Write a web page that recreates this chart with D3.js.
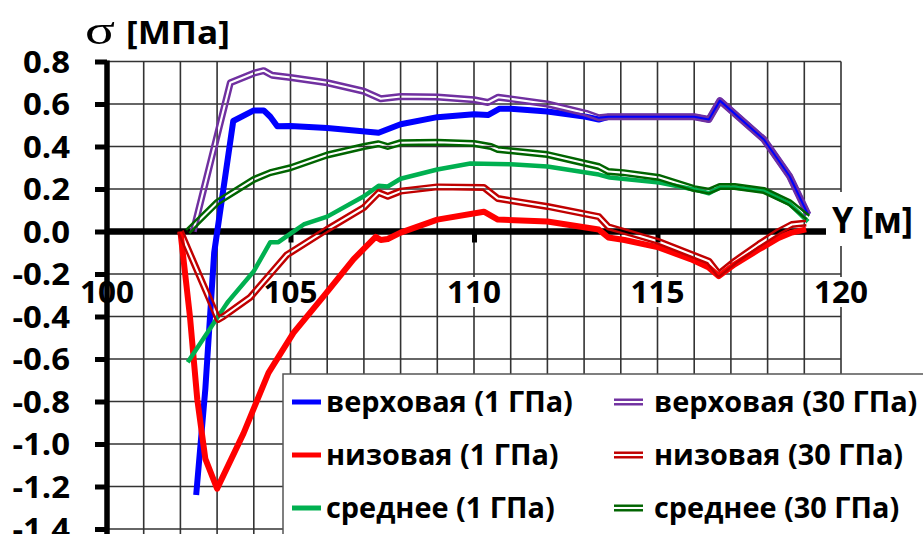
<!DOCTYPE html>
<html>
<head>
<meta charset="utf-8">
<script src="https://cdn.jsdelivr.net/npm/d3@7"></script>
<style>
  html, body { margin: 0; padding: 0; background: #fff; }
  svg { display: block; }
</style>
</head>
<body>
<svg id="chart" width="923" height="534"></svg>
<script>
// ---- data -------------------------------------------------------------
const xTickValues = [100, 105, 110, 115, 120];
const xTickLabels = ["100", "105", "110", "115", "120"];
const yTickValues = [0.8, 0.6, 0.4, 0.2, 0.0, -0.2, -0.4, -0.6, -0.8, -1.0, -1.2, -1.4];
const yTickLabels = ["0.8", "0.6", "0.4", "0.2", "0.0", "-0.2", "-0.4", "-0.6", "-0.8", "-1.0", "-1.2", "-1.4"];

const seriesLabels = [
  "верховая (1 ГПа)", "низовая (1 ГПа)", "среднее (1 ГПа)",
  "верховая (30 ГПа)", "низовая (30 ГПа)", "среднее (30 ГПа)"
];

// [Y, sigma] pairs
const upstream1 = [
  [102.43, -1.24], [102.68, -0.74], [102.92, -0.10], [103.44, 0.52], [104.0, 0.57],
  [104.27, 0.57], [104.45, 0.54], [104.64, 0.495], [105.0, 0.497], [106.0, 0.487],
  [107.4, 0.465], [108.0, 0.505], [109.0, 0.538], [110.0, 0.552], [110.38, 0.548],
  [110.7, 0.578], [111.0, 0.578], [112.0, 0.565], [113.05, 0.54], [113.4, 0.527],
  [113.66, 0.54], [114.07, 0.54], [116.0, 0.54], [116.4, 0.527], [116.7, 0.616],
  [117.9, 0.433], [118.6, 0.26], [119.1, 0.08]
];
const downstream1 = [
  [102.0, 0.0], [102.26, -0.40], [102.46, -0.79], [102.68, -1.07], [103.0, -1.21],
  [103.72, -0.95], [104.4, -0.665], [105.08, -0.477], [105.9, -0.305], [106.72, -0.13],
  [107.32, -0.025], [107.46, -0.04], [107.65, -0.035], [108.0, -0.005], [109.0, 0.056],
  [110.27, 0.093], [110.65, 0.056], [112.0, 0.047], [113.4, 0.009], [113.66, -0.028],
  [114.1, -0.04], [115.03, -0.075], [115.9, -0.13], [116.4, -0.17], [116.67, -0.21],
  [117.1, -0.155], [117.76, -0.085], [118.3, -0.03], [118.66, -0.005], [119.05, 0.01]
];
const mean1 = [
  [102.2, -0.615], [103.22, -0.35], [103.3, -0.33], [104.0, -0.187], [104.45, -0.05],
  [104.67, -0.05], [105.0, -0.01], [105.36, 0.033], [106.0, 0.07], [107.0, 0.166],
  [107.4, 0.215], [107.65, 0.212], [108.0, 0.248], [109.0, 0.292], [109.9, 0.32],
  [111.0, 0.316], [112.0, 0.306], [113.4, 0.268], [113.7, 0.254], [115.05, 0.23],
  [116.0, 0.198], [116.4, 0.18], [116.7, 0.207], [117.1, 0.207], [117.9, 0.19],
  [118.6, 0.13], [119.1, 0.047]
];
const upstream30 = [
  [102.35, 0.0], [103.36, 0.70], [104.0, 0.745], [104.27, 0.757], [104.5, 0.735],
  [105.0, 0.725], [106.0, 0.70], [107.0, 0.66], [107.46, 0.625], [108.0, 0.635],
  [109.0, 0.633], [110.0, 0.62], [110.38, 0.607], [110.66, 0.632], [111.0, 0.624],
  [112.0, 0.60], [113.06, 0.556], [113.4, 0.535], [113.66, 0.54], [114.07, 0.54],
  [116.0, 0.54], [116.4, 0.527], [116.7, 0.616], [117.9, 0.433], [118.6, 0.26],
  [119.1, 0.08]
];
const downstream30 = [
  [102.0, 0.0], [103.03, -0.414], [103.17, -0.40], [103.9, -0.31], [104.45, -0.20],
  [104.9, -0.11], [106.0, 0.01], [107.0, 0.113], [107.4, 0.183], [107.65, 0.166],
  [108.0, 0.19], [109.0, 0.21], [110.27, 0.207], [110.65, 0.155], [112.0, 0.118],
  [113.4, 0.07], [113.66, 0.022], [114.1, 0.0], [115.03, -0.047], [116.4, -0.14],
  [116.67, -0.20], [117.1, -0.14], [117.76, -0.06], [118.3, 0.0], [118.66, 0.033],
  [119.05, 0.04]
];
const mean30 = [
  [102.2, 0.0], [103.0, 0.137], [104.0, 0.245], [104.45, 0.277], [105.0, 0.30],
  [106.0, 0.36], [107.0, 0.40], [107.4, 0.413], [107.65, 0.40], [108.0, 0.418],
  [109.0, 0.42], [110.0, 0.414], [110.46, 0.40], [110.65, 0.386], [112.0, 0.362],
  [113.4, 0.306], [113.66, 0.282], [114.07, 0.277], [115.05, 0.254], [116.0, 0.202],
  [116.4, 0.19], [116.7, 0.212], [117.1, 0.212], [117.9, 0.193], [118.6, 0.136],
  [119.1, 0.066]
];

// ---- layout & style ---------------------------------------------------
const W = 923, H = 534;
const FONT = "'Open Sans', 'DejaVu Sans', sans-serif";
const series = [
  { label: seriesLabels[0], data: upstream1,    color: "#0000FF", width: 6,   double: false },
  { label: seriesLabels[1], data: downstream1,  color: "#FF0000", width: 6,   double: false },
  { label: seriesLabels[2], data: mean1,        color: "#00B050", width: 4.5, double: false },
  { label: seriesLabels[3], data: upstream30,   color: "#7030A0", width: 7,   double: true },
  { label: seriesLabels[4], data: downstream30, color: "#C00000", width: 7,   double: true },
  { label: seriesLabels[5], data: mean30,       color: "#006400", width: 7,   double: true }
];

const svg = d3.select("#chart");
const defs = svg.append("defs");

const x = d3.scaleLinear().domain([100, 120]).range([107, 841]);
const y = d3.scaleLinear().domain([-1.4, 0.8]).range([529, 61.5]);

// measure a string in a given font
function textWidth(str, size, weight, family) {
  const t = svg.append("text").attr("font-family", family || FONT)
    .attr("font-size", size).attr("font-weight", weight).text(str);
  const w = t.node().getComputedTextLength();
  t.remove();
  return w;
}

// ---- grid -------------------------------------------------------------
const grid = svg.append("g");
grid.selectAll("line.v").data(d3.range(100, 121, 1)).join("line")
  .attr("x1", d => x(d)).attr("x2", d => x(d))
  .attr("y1", y(0.8)).attr("y2", H + 5)
  .attr("stroke", "#333").attr("stroke-width", 1.6);
grid.selectAll("line.h").data(yTickValues).join("line")
  .attr("x1", x(100)).attr("x2", x(120))
  .attr("y1", d => y(d)).attr("y2", d => y(d))
  .attr("stroke", "#333").attr("stroke-width", 1.6);

// ---- x tick labels (white boxes, below the zero line) -----------------
const xLabSize = 30;
const xLabScale = 54 / textWidth("105", xLabSize, 700);
const xLab = svg.append("g");
xTickValues.forEach((v, i) => {
  const w = textWidth(xTickLabels[i], xLabSize, 700) * xLabScale;
  xLab.append("rect").attr("x", x(v) - w / 2 - 2).attr("y", 277)
    .attr("width", w + 4).attr("height", 30).attr("fill", "#fff");
  xLab.append("g").attr("transform", `translate(${x(v)},302.5) scale(${xLabScale},1)`)
    .append("text").attr("text-anchor", "middle")
    .attr("font-family", FONT).attr("font-size", xLabSize).attr("font-weight", 700)
    .attr("fill", "#000").text(xTickLabels[i]);
});

// ---- axes -------------------------------------------------------------
const yAxis = svg.append("g").attr("transform", `translate(${x(100)},0)`)
  .call(d3.axisLeft(y).tickValues(yTickValues).tickSize(12).tickSizeOuter(0).tickFormat(""));
yAxis.select(".domain").remove();
yAxis.selectAll(".tick line").attr("stroke", "#000").attr("stroke-width", 5);
svg.append("line").attr("x1", x(100)).attr("x2", x(100))
  .attr("y1", y(0.8) - 1).attr("y2", H + 5)
  .attr("stroke", "#000").attr("stroke-width", 5.5);

const xAxis = svg.append("g").attr("transform", `translate(0,${y(0)})`)
  .call(d3.axisBottom(x).tickValues([105, 110, 115]).tickSize(11).tickSizeOuter(0).tickFormat(""));
xAxis.select(".domain").remove();
xAxis.selectAll(".tick line").attr("stroke", "#000").attr("stroke-width", 5);
svg.append("line").attr("x1", x(100)).attr("x2", x(120))
  .attr("y1", y(0)).attr("y2", y(0))
  .attr("stroke", "#000").attr("stroke-width", 6.5);

// ---- y tick labels ----------------------------------------------------
const yLabSize = 30.5;
const yLabScale = 47 / textWidth("0.8", yLabSize, 700);
yTickValues.forEach((v, i) => {
  svg.append("g").attr("transform", `translate(70,${y(v) + 11}) scale(${yLabScale},1)`)
    .append("text").attr("text-anchor", "end")
    .attr("font-family", FONT).attr("font-size", yLabSize).attr("font-weight", 700)
    .attr("fill", "#000").text(yTickLabels[i]);
});

// ---- axis titles ------------------------------------------------------
const sigSize = 42;
const sigScale = 30 / textWidth("σ", sigSize, 400, "'Liberation Serif', serif");
svg.append("g").attr("transform", `translate(85,44) scale(${sigScale},1)`)
  .append("text").attr("font-family", "'Liberation Serif', serif")
  .attr("font-size", sigSize).attr("fill", "#000").text("σ");
const unitSize = 32;
const unitScale = 104 / textWidth("[МПа]", unitSize, 700);
svg.append("g").attr("transform", `translate(126,44) scale(${unitScale},1)`)
  .append("text").attr("font-family", FONT).attr("font-size", unitSize)
  .attr("font-weight", 700).attr("fill", "#000").text("[МПа]");

svg.append("rect").attr("x", 826).attr("y", 192).attr("width", 97).attr("height", 54).attr("fill", "#fff");
const ySize = 35;
const yTitleScale = 81 / textWidth("Y [м]", ySize, 700);
svg.append("g").attr("transform", `translate(832,233) scale(${yTitleScale},1)`)
  .append("text").attr("font-family", FONT).attr("font-size", ySize)
  .attr("font-weight", 700).attr("fill", "#000").text("Y [м]");

// ---- series -----------------------------------------------------------
const line = d3.line().x(d => x(d[0])).y(d => y(d[1]));

// double (compound) stroke: coloured band with a see-through core
function doubleStroke(parent, d, color, width, id) {
  const m = defs.append("mask").attr("id", id).attr("maskUnits", "userSpaceOnUse")
    .attr("x", 0).attr("y", 0).attr("width", W).attr("height", H);
  m.append("rect").attr("width", W).attr("height", H).attr("fill", "#fff");
  m.append("path").attr("d", d).attr("fill", "none").attr("stroke", "#000")
    .attr("stroke-width", width * 0.3).attr("stroke-linejoin", "round");
  parent.append("path").attr("d", d).attr("fill", "none").attr("stroke", color)
    .attr("stroke-width", width).attr("stroke-linejoin", "round")
    .attr("mask", `url(#${id})`);
}

const plot = svg.append("g");
series.forEach((s, i) => {
  const d = line(s.data);
  if (s.double) {
    doubleStroke(plot, d, s.color, s.width, "dbl" + i);
  } else {
    plot.append("path").attr("d", d).attr("fill", "none").attr("stroke", s.color)
      .attr("stroke-width", s.width).attr("stroke-linejoin", "round");
  }
});

// ---- legend -----------------------------------------------------------
const legend = svg.append("g");
legend.append("rect").attr("x", 283).attr("y", 374).attr("width", 700).attr("height", 220)
  .attr("fill", "#fff").attr("stroke", "#555").attr("stroke-width", 1.5);
const legSize = 28;
const legScale = 247 / textWidth(seriesLabels[0], legSize, 700);
const rowY = [402, 455, 508];
const colSwatch = [292, 614];
const colText = [326, 654];
series.forEach((s, i) => {
  const col = i < 3 ? 0 : 1, row = i % 3;
  const yy = rowY[row];
  const d = `M${colSwatch[col]},${yy}H${colSwatch[col] + 29}`;
  if (s.double) {
    doubleStroke(legend, d, s.color, 7, "legdbl" + i);
  } else {
    legend.append("path").attr("d", d).attr("stroke", s.color).attr("stroke-width", 5);
  }
  legend.append("g").attr("transform", `translate(${colText[col]},${yy + 10}) scale(${legScale},1)`)
    .append("text").attr("font-family", FONT).attr("font-size", legSize)
    .attr("font-weight", 700).attr("fill", "#000").text(s.label);
});
</script>
</body>
</html>
